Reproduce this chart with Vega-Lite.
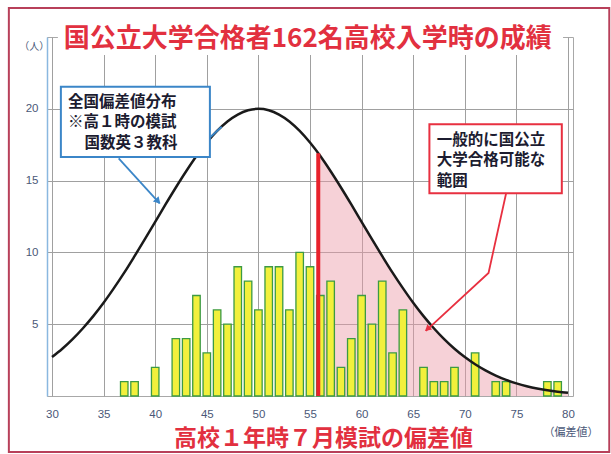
{
  "$schema": "https://vega.github.io/schema/vega-lite/v6.json",
  "width": 526,
  "height": 359,
  "autosize": {"type": "none"},
  "padding": {"left": 47, "top": 37, "right": 38, "bottom": 58},
  "background": "white",
  "config": {
    "view": {"stroke": "#a8a8a8", "strokeWidth": 1},
    "font": "Noto Sans CJK JP"
  },
  "datasets": {
    "frame": [{"x": 25.82, "x2": 84.0, "y": -3.9, "y2": 27.02}],
    "titleMask": [{"x": 30.57, "x2": 79.52, "y": 23.75, "y2": 25.6}],
    "region": [
      {"x": 55.8, "y": 16.9}, {"x": 56, "y": 16.71}, {"x": 57, "y": 15.65}, {"x": 58, "y": 14.52},
      {"x": 59, "y": 13.34}, {"x": 60, "y": 12.13}, {"x": 61, "y": 10.92}, {"x": 62, "y": 9.74},
      {"x": 63, "y": 8.59}, {"x": 64, "y": 7.51}, {"x": 65, "y": 6.49}, {"x": 66, "y": 5.56},
      {"x": 67, "y": 4.72}, {"x": 68, "y": 3.96}, {"x": 69, "y": 3.29}, {"x": 70, "y": 2.71},
      {"x": 71, "y": 2.21}, {"x": 72, "y": 1.78}, {"x": 73, "y": 1.42}, {"x": 74, "y": 1.12},
      {"x": 75, "y": 0.88}, {"x": 76, "y": 0.68}, {"x": 77, "y": 0.52}, {"x": 78, "y": 0.4},
      {"x": 79, "y": 0.3}, {"x": 80, "y": 0.22}
    ],
    "students": [
      {"x": 37, "y": 1}, {"x": 38, "y": 1}, {"x": 40, "y": 2}, {"x": 42, "y": 4}, {"x": 43, "y": 4},
      {"x": 44, "y": 7}, {"x": 45, "y": 3}, {"x": 46, "y": 6}, {"x": 47, "y": 5}, {"x": 48, "y": 9},
      {"x": 49, "y": 8}, {"x": 50, "y": 6}, {"x": 51, "y": 9}, {"x": 52, "y": 9}, {"x": 53, "y": 6},
      {"x": 54, "y": 10}, {"x": 55, "y": 9}, {"x": 56, "y": 7}, {"x": 57, "y": 8}, {"x": 58, "y": 2},
      {"x": 59, "y": 4}, {"x": 60, "y": 7}, {"x": 61, "y": 5}, {"x": 62, "y": 8}, {"x": 63, "y": 3},
      {"x": 64, "y": 6}, {"x": 66, "y": 2}, {"x": 67, "y": 1}, {"x": 68, "y": 1}, {"x": 69, "y": 2},
      {"x": 71, "y": 3}, {"x": 73, "y": 1}, {"x": 74, "y": 1}, {"x": 78, "y": 1}, {"x": 79, "y": 1}
    ],
    "curve": [
      {"x": 30, "y": 2.71}, {"x": 31, "y": 3.29}, {"x": 32, "y": 3.96}, {"x": 33, "y": 4.72},
      {"x": 34, "y": 5.56}, {"x": 35, "y": 6.49}, {"x": 36, "y": 7.51}, {"x": 37, "y": 8.59},
      {"x": 38, "y": 9.74}, {"x": 39, "y": 10.92}, {"x": 40, "y": 12.13}, {"x": 41, "y": 13.34},
      {"x": 42, "y": 14.52}, {"x": 43, "y": 15.65}, {"x": 44, "y": 16.71}, {"x": 45, "y": 17.65},
      {"x": 46, "y": 18.46}, {"x": 47, "y": 19.12}, {"x": 48, "y": 19.6}, {"x": 49, "y": 19.9},
      {"x": 50, "y": 20}, {"x": 51, "y": 19.9}, {"x": 52, "y": 19.6}, {"x": 53, "y": 19.12},
      {"x": 54, "y": 18.46}, {"x": 55, "y": 17.65}, {"x": 56, "y": 16.71}, {"x": 57, "y": 15.65},
      {"x": 58, "y": 14.52}, {"x": 59, "y": 13.34}, {"x": 60, "y": 12.13}, {"x": 61, "y": 10.92},
      {"x": 62, "y": 9.74}, {"x": 63, "y": 8.59}, {"x": 64, "y": 7.51}, {"x": 65, "y": 6.49},
      {"x": 66, "y": 5.56}, {"x": 67, "y": 4.72}, {"x": 68, "y": 3.96}, {"x": 69, "y": 3.29},
      {"x": 70, "y": 2.71}, {"x": 71, "y": 2.21}, {"x": 72, "y": 1.78}, {"x": 73, "y": 1.42},
      {"x": 74, "y": 1.12}, {"x": 75, "y": 0.88}, {"x": 76, "y": 0.68}, {"x": 77, "y": 0.52},
      {"x": 78, "y": 0.4}, {"x": 79, "y": 0.3}, {"x": 80, "y": 0.22}
    ],
    "cutoff": [{"x": 55.8, "y": 0, "y2": 16.9}],
    "blueBox": [{"x": 30.86, "x2": 45.3, "y": 16.64, "y2": 21.54}],
    "redBox": [{"x": 66.57, "x2": 79.4, "y": 14.12, "y2": 18.92}],
    "blueArrow": [{"x": 36.46, "y": 16.55, "ord": 1}, {"x": 40.43, "y": 13.42, "ord": 2}],
    "blueArrowHead": [{"x": 40.2, "y": 13.62}],
    "blueLink": [{"x": 45.33, "y": 18.02, "ord": 1}, {"x": 46.44, "y": 18.75, "ord": 2}],
    "redArrow": [{"x": 74.01, "y": 14.14, "ord": 1}, {"x": 72.3, "y": 8.57, "ord": 2}, {"x": 66.22, "y": 4.53, "ord": 3}],
    "redArrowHead": [{"x": 66.45, "y": 4.72}],
    "blueNote": [
      {"x": 31.55, "y": 20.47, "text": "全国偏差値分布"},
      {"x": 31.55, "y": 19.05, "text": "※高１時の模試"},
      {"x": 33.14, "y": 17.62, "text": "国数英３教科"}
    ],
    "redNote": [
      {"x": 67.29, "y": 17.83, "text": "一般的に国公立"},
      {"x": 67.29, "y": 16.4, "text": "大学合格可能な"},
      {"x": 67.29, "y": 14.97, "text": "範囲"}
    ],
    "mainTitle": [{"x": 54.78, "y": 24.89, "text": "国公立大学合格者162名高校入学時の成績"}],
    "unitY": [{"x": 28.29, "y": 24.28, "text": "（人）"}],
    "unitX": [{"x": 80.29, "y": -2.58, "text": "（偏差値）"}]
  },
  "encoding": {
    "x": {
      "field": "x",
      "type": "quantitative",
      "scale": {"domain": [30, 80], "nice": false, "zero": false},
      "axis": {
        "title": "高校１年時７月模試の偏差値",
        "titleColor": "#e2303f",
        "titleFontSize": 23,
        "titleFontWeight": "bold",
        "titleFont": "Noto Sans CJK JP",
        "titleX": 276,
        "titleY": 42,
        "titleBaseline": "middle",
        "values": [30, 35, 40, 45, 50, 55, 60, 65, 70, 75, 80],
        "grid": true,
        "gridColor": "#a0a0a0",
        "gridWidth": 1,
        "domain": false,
        "ticks": false,
        "tickSize": 0,
        "labelPadding": 12,
        "labelColor": "#4a5878",
        "labelFont": "Liberation Sans",
        "labelFontSize": 11.5
      }
    },
    "y": {
      "field": "y",
      "type": "quantitative",
      "scale": {"domain": [0, 25], "nice": false, "zero": true},
      "axis": {
        "title": null,
        "values": [5, 10, 15, 20],
        "grid": true,
        "gridColor": "#a0a0a0",
        "gridWidth": 1,
        "domain": true,
        "domainColor": "#8ab8e0",
        "domainWidth": 1.5,
        "ticks": false,
        "tickSize": 0,
        "labelPadding": 9,
        "labelColor": "#4a5878",
        "labelFont": "Liberation Sans",
        "labelFontSize": 11.5
      }
    }
  },
  "layer": [
    {
      "data": {"name": "frame"},
      "mark": {"type": "rect", "fill": "transparent", "stroke": "#b8405a", "strokeWidth": 2, "clip": false},
      "encoding": {"x2": {"field": "x2"}, "y2": {"field": "y2"}}
    },
    {
      "data": {"name": "titleMask"},
      "mark": {"type": "rect", "fill": "white", "stroke": null},
      "encoding": {"x2": {"field": "x2"}, "y2": {"field": "y2"}}
    },
    {
      "data": {"name": "region"},
      "mark": {"type": "area", "fill": "#ec98a6", "fillOpacity": 0.45, "interpolate": "monotone"}
    },
    {
      "data": {"name": "students"},
      "mark": {"type": "bar", "orient": "vertical", "size": 7.5, "fill": "#f2f03c", "stroke": "#3c9a44", "strokeWidth": 1.3}
    },
    {
      "data": {"name": "curve"},
      "mark": {"type": "line", "color": "#1a1a1a", "strokeWidth": 2.5, "interpolate": "monotone"}
    },
    {
      "data": {"name": "cutoff"},
      "mark": {"type": "rule", "color": "#e8222c", "strokeWidth": 4},
      "encoding": {"y2": {"field": "y2"}}
    },
    {
      "data": {"name": "blueBox"},
      "mark": {"type": "rect", "fill": "white", "stroke": "#3b86c8", "strokeWidth": 2},
      "encoding": {"x2": {"field": "x2"}, "y2": {"field": "y2"}}
    },
    {
      "data": {"name": "redBox"},
      "mark": {"type": "rect", "fill": "white", "stroke": "#e83040", "strokeWidth": 2},
      "encoding": {"x2": {"field": "x2"}, "y2": {"field": "y2"}}
    },
    {
      "data": {"name": "blueArrow"},
      "mark": {"type": "line", "color": "#3b86c8", "strokeWidth": 1.8},
      "encoding": {"order": {"field": "ord"}}
    },
    {
      "data": {"name": "blueArrowHead"},
      "mark": {"type": "point", "shape": "triangle", "size": 60, "angle": 137, "filled": true, "color": "#3b86c8", "opacity": 1}
    },
    {
      "data": {"name": "blueLink"},
      "mark": {"type": "line", "color": "#3b86c8", "strokeWidth": 1.8},
      "encoding": {"order": {"field": "ord"}}
    },
    {
      "data": {"name": "redArrow"},
      "mark": {"type": "line", "color": "#e83040", "strokeWidth": 1.8},
      "encoding": {"order": {"field": "ord"}}
    },
    {
      "data": {"name": "redArrowHead"},
      "mark": {"type": "point", "shape": "triangle", "size": 50, "angle": 228, "filled": true, "color": "#e83040", "opacity": 1}
    },
    {
      "data": {"name": "blueNote"},
      "mark": {"type": "text", "align": "left", "baseline": "middle", "fontSize": 15.5, "fontWeight": "bold", "color": "#1c1c30"},
      "encoding": {"text": {"field": "text"}}
    },
    {
      "data": {"name": "redNote"},
      "mark": {"type": "text", "align": "left", "baseline": "middle", "fontSize": 15.5, "fontWeight": "bold", "color": "#1c1c30"},
      "encoding": {"text": {"field": "text"}}
    },
    {
      "data": {"name": "mainTitle"},
      "mark": {"type": "text", "align": "center", "baseline": "middle", "fontSize": 26, "fontWeight": "bold", "color": "#e2303f", "clip": false},
      "encoding": {"text": {"field": "text"}}
    },
    {
      "data": {"name": "unitY"},
      "mark": {"type": "text", "align": "center", "baseline": "middle", "fontSize": 10, "color": "#4a5878", "clip": false},
      "encoding": {"text": {"field": "text"}}
    },
    {
      "data": {"name": "unitX"},
      "mark": {"type": "text", "align": "center", "baseline": "middle", "fontSize": 11, "color": "#4a5878", "clip": false},
      "encoding": {"text": {"field": "text"}}
    }
  ]
}
